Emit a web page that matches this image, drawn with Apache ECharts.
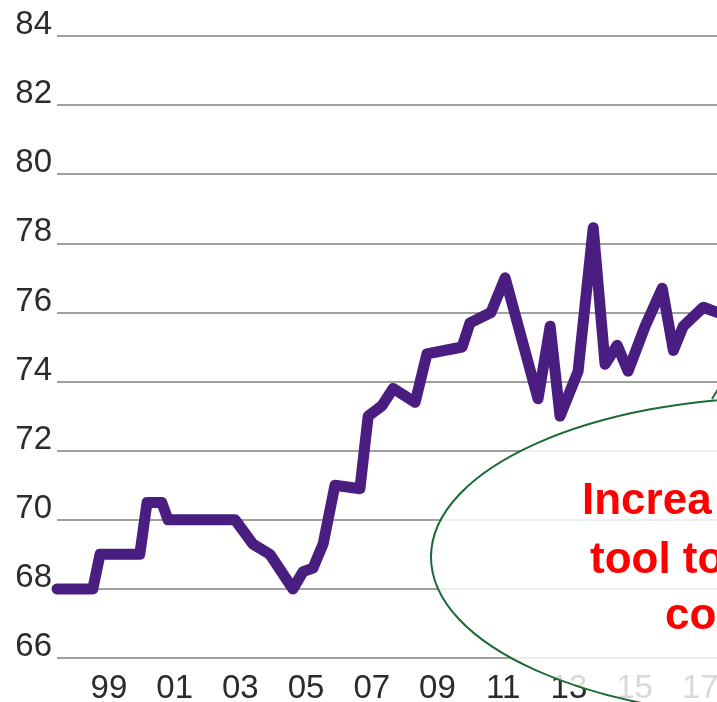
<!DOCTYPE html>
<html>
<head>
<meta charset="utf-8">
<script src="https://cdn.jsdelivr.net/npm/echarts@6/dist/echarts.min.js"></script>
<style>
  html, body { margin: 0; padding: 0; background: #fff; }
  #chart { width: 717px; height: 702px; }
</style>
</head>
<body>
<div id="chart"></div>
<script>
// values (x in decimal years, label "99" = 1999)
const years = [1997.42, 1998.51, 1998.73, 1999.94, 2000.16, 2000.61, 2000.80, 2002.84,
  2003.38, 2003.90, 2004.60, 2004.91, 2005.21, 2005.52, 2005.88, 2006.64, 2006.89,
  2007.31, 2007.65, 2008.32, 2008.68, 2009.75, 2009.99, 2010.63, 2011.06, 2012.06,
  2012.43, 2012.73, 2013.28, 2013.74, 2014.10, 2014.47, 2014.80, 2015.32, 2015.84,
  2016.18, 2016.48, 2017.09, 2017.51];
const values = [68.0, 68.0, 69.0, 69.0, 70.5, 70.5, 70.0, 70.0,
  69.3, 69.0, 68.0, 68.5, 68.6, 69.3, 71.0, 70.9, 73.0,
  73.3, 73.8, 73.4, 74.8, 75.0, 75.7, 76.0, 77.0, 73.5,
  75.6, 73.0, 74.3, 78.45, 74.5, 75.05, 74.3, 75.6, 76.7,
  74.9, 75.6, 76.15, 76.0];
const tickYears = [1999, 2001, 2003, 2005, 2007, 2009, 2011, 2013, 2015, 2017];
const noteLines = ['Increa', 'tool to', 'co'];

const chart = echarts.init(document.getElementById('chart'));
const fontFam = '"Liberation Sans", Arial, sans-serif';

chart.setOption({
  animation: false,
  grid: { left: 57, right: -6, top: 36, bottom: 44, outerBoundsMode: 'none', containLabel: false },
  xAxis: {
    type: 'value',
    min: 1997.42,
    max: 2017.69,
    axisLine: { show: false },
    axisTick: { show: false },
    splitLine: { show: false },
    axisLabel: {
      customValues: tickYears,
      formatter: v => String(v % 100).padStart(2, '0'),
      fontSize: 33,
      fontFamily: fontFam,
      color: '#2b2b2b',
      margin: 14
    }
  },
  yAxis: {
    type: 'value',
    min: 66,
    max: 84,
    interval: 2,
    axisLine: { show: false },
    axisTick: { show: false },
    splitLine: { lineStyle: { color: '#a0a0a0', width: 1.8 } },
    axisLabel: {
      fontSize: 33,
      fontFamily: fontFam,
      color: '#2b2b2b',
      margin: 5,
      verticalAlign: 'bottom',
      lineHeight: 22
    }
  },
  series: [{
    type: 'line',
    data: years.map((y, i) => [y, values[i]]),
    showSymbol: false,
    clip: false,
    lineStyle: { color: '#4a1e80', width: 11, join: 'round', cap: 'round' }
  }],
  graphic: [
    {
      type: 'ellipse',
      z: 100,
      shape: { cx: 788, cy: 557, rx: 357, ry: 160 },
      style: { fill: 'rgba(255,255,255,0.82)', stroke: '#1b6a36', lineWidth: 2 }
    },
    {
      type: 'polyline',
      z: 101,
      shape: { points: [[712, 399], [720, 386]] },
      style: { stroke: '#1b6a36', lineWidth: 2, fill: null }
    },
    ...noteLines.map((t, i) => ({
      type: 'text',
      z: 102,
      style: {
        text: t,
        x: [582, 590, 665][i],
        y: [502, 561, 617][i],
        fill: '#ff0000',
        font: 'bold 44px ' + fontFam,
        verticalAlign: 'middle'
      }
    }))
  ]
});
</script>
</body>
</html>
